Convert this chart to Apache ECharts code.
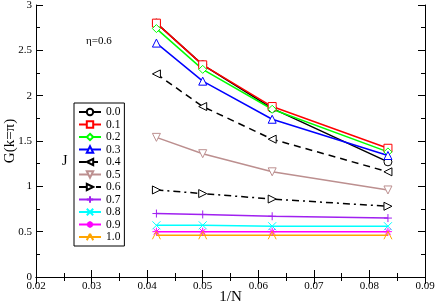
<!DOCTYPE html>
<html><head><meta charset="utf-8">
<script src="https://cdn.jsdelivr.net/npm/echarts@6/dist/echarts.min.js"></script>
<style>html,body{margin:0;padding:0;background:#fff}#c{width:436px;height:306px}</style>
</head><body><div id="c"></div>
<script>
const invN = [0.041667, 0.05, 0.0625, 0.083333];
const J00 = [2.80, 2.34, 1.86, 1.27];
const J01 = [2.80, 2.34, 1.88, 1.42];
const J02 = [2.74, 2.29, 1.85, 1.38];
const J03 = [2.58, 2.16, 1.74, 1.34];
const J04 = [2.24, 1.88, 1.52, 1.16];
const J05 = [1.54, 1.36, 1.16, 0.96];
const J06 = [0.96, 0.92, 0.86, 0.78];
const J07 = [0.70, 0.69, 0.67, 0.65];
const J08 = [0.57, 0.57, 0.56, 0.56];
const J09 = [0.50, 0.50, 0.50, 0.50];
const J10 = [0.46, 0.46, 0.46, 0.46];
const names = ['0.0','0.1','0.2','0.3','0.4','0.5','0.6','0.7','0.8','0.9','1.0'];
const xTicks = [0.02,0.03,0.04,0.05,0.06,0.07,0.08,0.09];
const yTicks = [0,0.5,1,1.5,2,2.5,3];

const allY = [J00,J01,J02,J03,J04,J05,J06,J07,J08,J09,J10];
const colors = ['#000000','#ff0000','#00ff00','#0000ff','#000000','#bc8f8f','#000000','#a020f0','#00ffff','#ff00ff','#ffa500'];
const symbols = ['circle','rect','diamond','triangle',
  'path://M0,5L10,0L10,10Z','path://M0,0L10,0L5,10Z','path://M10,5L0,0L0,10Z',
  'path://M0,5L10,5M5,0L5,10','path://M1,1L9,9M9,1L1,9',
  'path://M0,5L10,5M5,0L5,10M1.5,1.5L8.5,8.5M8.5,1.5L1.5,8.5','path://M5,0L0,10M5,0L10,10'];
const lineTypes = ['solid','solid','solid','solid',[7,5],'solid',[7,4,2,4],'solid','solid','solid','solid'];
const F = 'Liberation Serif';

const series = allY.map((ys,i)=>({
  name: names[i], type:'line', xAxisIndex:0, yAxisIndex:0,
  data: ys.map((y,k)=>[invN[k], y]),
  symbol: symbols[i], symbolSize: 8,
  lineStyle:{color:colors[i], width:1.5, type:lineTypes[i]},
  itemStyle:{color:'#fff', borderColor:colors[i], borderWidth:1},
  emphasis:{disabled:true}, animation:false
}));

const axisCommon = {
  axisLine:{show:true, lineStyle:{color:'#000', width:1}},
  axisTick:{show:true, inside:true, length:7, lineStyle:{color:'#000'}},
  minorTick:{show:true, splitNumber:2, length:4, lineStyle:{color:'#000'}},
  splitLine:{show:false}
};
const chart = echarts.init(document.getElementById('c'));
chart.setOption({
  animation:false,
  grid:{left:36, top:5, right:11, bottom:29, containLabel:false, outerBoundsMode:'none'},
  xAxis:[
    Object.assign({type:'value', min:xTicks[0], max:xTicks[xTicks.length-1], interval:0.01, position:'bottom',
      name:'1/N', nameLocation:'middle', nameGap:13, nameMoveOverlap:false,
      nameTextStyle:{fontFamily:F, fontSize:15, color:'#000'},
      axisLabel:{fontFamily:F, fontSize:11, color:'#000', margin:4, showMinLabel:true, showMaxLabel:true}}, axisCommon),
    Object.assign({type:'value', min:xTicks[0], max:xTicks[xTicks.length-1], interval:0.01, position:'top',
      axisLabel:{show:false}}, axisCommon)
  ],
  yAxis:[
    Object.assign({type:'value', min:yTicks[0], max:yTicks[yTicks.length-1], interval:0.5, position:'left',
      name:'G(k=\u03c0)', nameLocation:'middle', nameGap:18, nameMoveOverlap:false,
      nameTextStyle:{fontFamily:F, fontSize:15, color:'#000'},
      axisLabel:{fontFamily:F, fontSize:11, color:'#000', margin:4, showMinLabel:true, showMaxLabel:true}}, axisCommon),
    Object.assign({type:'value', min:yTicks[0], max:yTicks[yTicks.length-1], interval:0.5, position:'right',
      axisLabel:{show:false}}, axisCommon)
  ],
  legend:{
    data:names, orient:'vertical', left:74, top:103,
    itemWidth:22, itemHeight:8, itemGap:0.5,
    borderColor:'#000', borderWidth:1, padding:[3,4,3,4],
    textStyle:{fontFamily:F, fontSize:11.5, lineHeight:11, color:'#000'},
    selectedMode:false
  },
  graphic:[
    {type:'text', left:86, top:36, style:{text:'\u03b7=0.6', font:'11px "Liberation Serif"', fill:'#000'}},
    {type:'text', left:62, top:154, style:{text:'J', font:'14px "Liberation Serif"', fill:'#000'}}
  ],
  series: series
});
</script></body></html>
